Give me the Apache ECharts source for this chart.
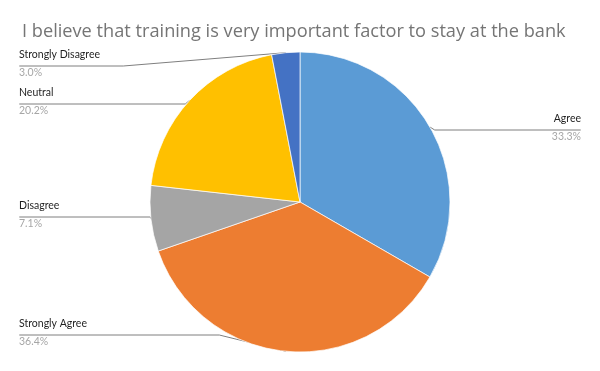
<!DOCTYPE html>
<html><head><meta charset="utf-8">
<script src="https://cdn.jsdelivr.net/npm/echarts@6/dist/echarts.min.js"></script>
<style>html,body{margin:0;padding:0;background:#fff}#c{width:600px;height:371px}</style>
</head><body><div id="c"></div>
<script>
const titleText = 'I believe that training is very important factor to stay at the bank';
const categories = ['Agree', 'Strongly Agree', 'Disagree', 'Neutral', 'Strongly Disagree'];
const counts = [33, 36, 7, 20, 3];
const colors = ['#5B9BD5', '#ED7D31', '#A5A5A5', '#FFC000', '#4472C4'];

// label placement (layout only)
const labelSpots = [
  { x: 581, y: 130, align: 'right', len: 146 },
  { x: 19, y: 335, align: 'left', len: 200 },
  { x: 19, y: 217, align: 'left', len: 131 },
  { x: 19, y: 104, align: 'left', len: 166 },
  { x: 19, y: 66, align: 'left', len: 104 }
];

const total = counts.reduce((a, b) => a + b, 0);
const pieBase = { type: 'pie', center: [300, 202], radius: 150, startAngle: 90, clockwise: true, avoidLabelOverlap: false };
const layoutFn = function (params) {
  const s = labelSpots[params.dataIndex];
  return { x: s.x, y: s.y, align: s.align, verticalAlign: 'middle' };
};

const chart = echarts.init(document.getElementById('c'), null, { renderer: 'canvas' });
chart.setOption({
  animation: false,
  title: {
    text: titleText, left: 17, top: 18,
    textStyle: { fontFamily: 'Open Sans', fontSize: 18.2, fontWeight: 'normal', color: '#757575' }
  },
  series: [
    Object.assign({}, pieBase, {
      name: 'slices',
      itemStyle: { borderColor: '#fff', borderWidth: 0.7 },
      data: categories.map((c, i) => ({
        name: c, value: counts[i],
        itemStyle: { color: colors[i] },
        labelLine: { length2: labelSpots[i].len }
      })),
      label: { show: true, position: 'outside', formatter: '.', fontSize: 1, color: 'rgba(0,0,0,0)', padding: 0 },
      labelLine: { show: true, length: 10, length2: 100, lineStyle: { color: '#7F7F7F', width: 1 } },
      labelLayout: layoutFn
    }),
    Object.assign({}, pieBase, {
      name: 'labels',
      silent: true,
      itemStyle: { color: 'rgba(0,0,0,0)' },
      data: categories.map((c, i) => ({ name: c, value: counts[i] })),
      label: {
        show: true, position: 'outside',
        formatter: p => '{n|' + p.name + '}\n{v|' + (p.value / total * 100).toFixed(1) + '%}',
        rich: {
          n: { fontFamily: 'Lato', fontSize: 10.5, color: '#1F1F1F', lineHeight: 14 },
          v: { fontFamily: 'Lato', fontSize: 10.5, color: '#A6A6A6', lineHeight: 22 }
        }
      },
      labelLine: { show: false },
      labelLayout: layoutFn
    })
  ]
});
</script></body></html>
